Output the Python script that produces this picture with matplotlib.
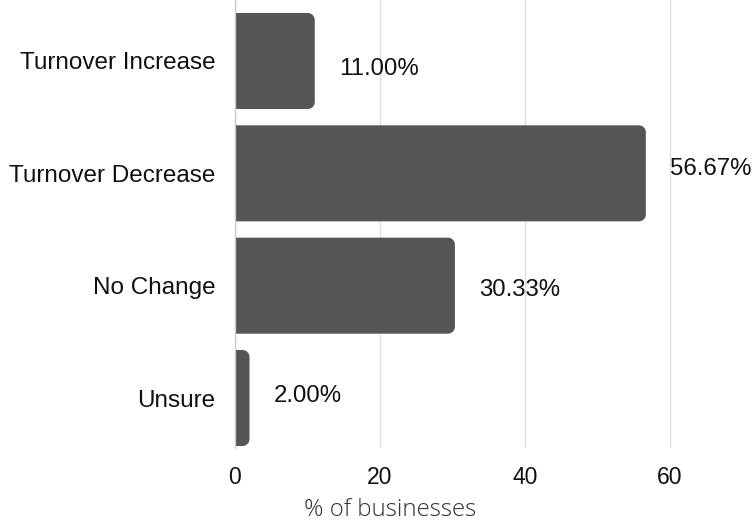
import matplotlib
matplotlib.use("Agg")
import numpy as np
import matplotlib.pyplot as plt
from matplotlib.patches import Polygon

categories = ["Turnover Increase", "Turnover Decrease", "No Change", "Unsure"]
values = [11.00, 56.67, 30.33, 2.00]
value_labels = ["11.00%", "56.67%", "30.33%", "2.00%"]
xticks = [0, 20, 40, 60]
xlabel = "% of businesses"

# layout: vertical nudges of the value labels (pixels, downward positive)
label_dy_px = [8.5, -4, 4.5, -2]

W, H = 755, 524
fig = plt.figure(figsize=(W / 100, H / 100), dpi=100)
ax_left, ax_right, ax_top, ax_bottom = 235, 699, 0, 448
ax = fig.add_axes([ax_left / W, (H - ax_bottom) / H, (ax_right - ax_left) / W, (ax_bottom - ax_top) / H])

bar_color = "#555555"
ypos = list(range(len(categories)))
bars = ax.barh(ypos, values, height=0.855, color=bar_color)

xmin, xmax = 0, 64
ylo, yhi = 3.445, -0.543
ax.set_xlim(xmin, xmax)
ax.set_ylim(ylo, yhi)

px_per_x = (ax_right - ax_left) / (xmax - xmin)
px_per_y = (ax_bottom - ax_top) / (ylo - yhi)
radius_px = 7

for b in bars:
    x0, y0 = b.get_x(), b.get_y()
    w, h = b.get_width(), b.get_height()
    b.set_visible(False)
    rpx = min(radius_px, w * px_per_x / 2)
    rx = rpx / px_per_x
    ry = rpx / px_per_y
    x1 = x0 + w
    pts = [(x0, y0)]
    for t in np.linspace(-np.pi / 2, 0, 12):
        pts.append((x1 - rx + rx * np.cos(t), y0 + ry + ry * np.sin(t)))
    for t in np.linspace(0, np.pi / 2, 12):
        pts.append((x1 - rx + rx * np.cos(t), y0 + h - ry + ry * np.sin(t)))
    pts.append((x0, y0 + h))
    ax.add_patch(Polygon(pts, closed=True, facecolor=bar_color, edgecolor="none", zorder=3))

for yv, v, lab, dy in zip(ypos, values, value_labels, label_dy_px):
    ax.annotate(lab, (v, yv), xytext=(17.5, -dy * 0.72), textcoords="offset points",
                va="center", ha="left", fontsize=17.3, family="Liberation Sans",
                color="#111111")

ax.set_yticks(ypos)
ax.set_yticklabels(categories, family="Liberation Sans", fontsize=17.5, color="#111111")
ax.set_xticks(xticks)
ax.set_xticklabels([str(t) for t in xticks], family="Liberation Sans", fontsize=16.5, color="#111111")
ax.tick_params(axis="both", length=0)
ax.tick_params(axis="y", pad=14)
ax.tick_params(axis="x", pad=13)

ax.grid(axis="x", color="#dddddd", linewidth=1, zorder=0)
ax.set_axisbelow(True)
for s in ["top", "right", "bottom"]:
    ax.spines[s].set_visible(False)
ax.spines["left"].set_color("#cccccc")
ax.spines["left"].set_linewidth(1)
ax.spines["left"].set_zorder(4)

ax.set_xlabel(xlabel, family="Open Sans", fontweight="light", fontsize=17.3, color="#333333")
ax.xaxis.set_label_coords((390 - ax_left) / (ax_right - ax_left), -(510 - ax_bottom) / (ax_bottom - ax_top))
ax.xaxis.label.set_va("center")

fig.savefig("out.png", dpi=100)
